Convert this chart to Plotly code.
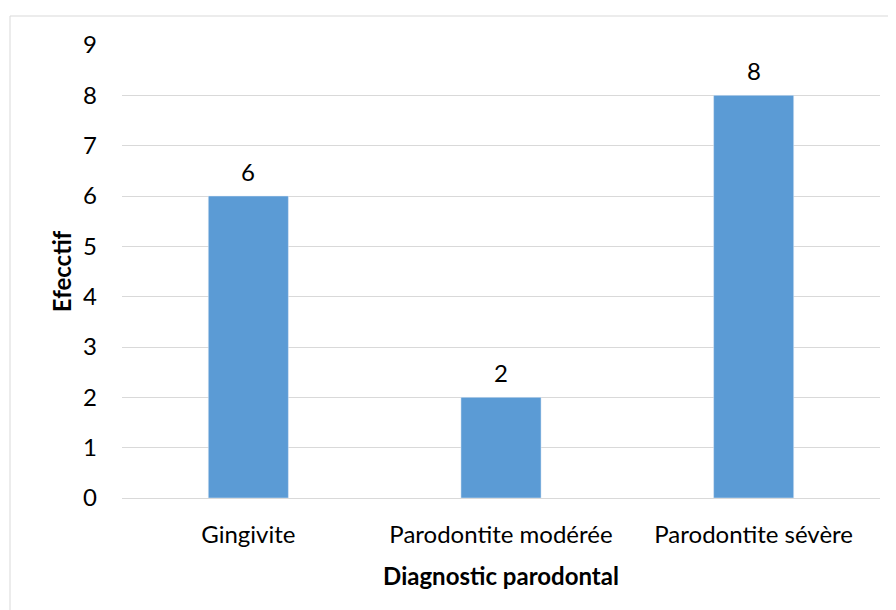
import plotly.graph_objects as go

categories = ["Gingivite", "Parodontite modérée", "Parodontite sévère"]
values = [6, 2, 8]
y_ticks = [0, 1, 2, 3, 4, 5, 6, 7, 8, 9]

FONT = "Lato"
FS = 24
W, H = 896, 610
L, R, T, B = 114, 24, 37, 120
pw, ph = W - L - R, H - T - B

fig = go.Figure(go.Bar(
    x=categories, y=values, marker_color="#5B9BD5", width=0.317,
    hoverinfo="skip",
))

for c, v in zip(categories, values):
    fig.add_annotation(x=c, y=v, text=str(v), showarrow=False,
                       yanchor="middle", yshift=25,
                       font=dict(family=FONT, size=FS, color="#000000"))

fig.update_layout(
    width=W, height=H,
    margin=dict(l=L, r=R, t=T, b=B, pad=0),
    paper_bgcolor="white", plot_bgcolor="white",
    showlegend=False,
    font=dict(family=FONT, size=FS, color="#000000"),
    xaxis=dict(
        showgrid=False, showline=False, zeroline=False, ticks="",
        ticklabelstandoff=20,
        tickfont=dict(family=FONT, size=FS),
        title=dict(text="<b>Diagnostic parodontal</b>", font=dict(family=FONT, size=FS), standoff=21),
    ),
    yaxis=dict(
        range=[0, 9], tickvals=y_ticks, showgrid=True, gridcolor="#D9D9D9", gridwidth=1.3,
        zeroline=True, zerolinecolor="#D9D9D9", zerolinewidth=1.3,
        showline=False, ticks="", ticklabelstandoff=24,
        tickfont=dict(family=FONT, size=FS),
        title=dict(text="<b>Efecctif</b>", font=dict(family=FONT, size=FS), standoff=4),
    ),
    shapes=[dict(
        type="rect", xref="paper", yref="paper",
        x0=(10 - 8 - L) / pw, x1=1.2, y0=-0.5, y1=(H - B - 8) / ph,
        line=dict(color="#D9D9D9", width=1), fillcolor="rgba(0,0,0,0)", layer="below",
    )],
)

fig.write_html("out.html")
